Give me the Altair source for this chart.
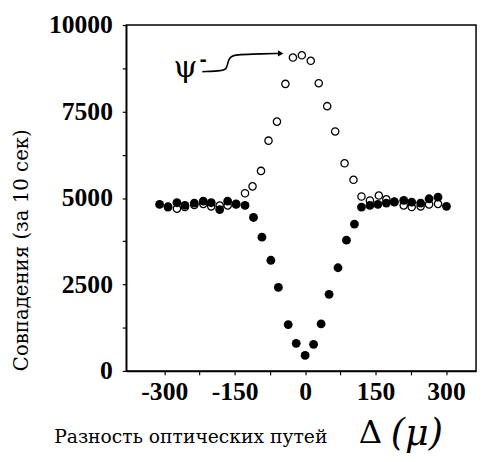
import altair as alt
import pandas as pd

# Filled circles (series 1)
filled_x = [-310, -292, -273, -256, -236, -217, -200, -182, -165, -147, -128,
            -110, -92, -73, -57, -36, -19, 0, 18, 34, 51, 70, 88, 105,
            120, 138, 155, 173, 190, 210, 227, 246, 264, 283, 301]
filled_y = [4815, 4738, 4863, 4786, 4852, 4909, 4863, 4664, 4909, 4815, 4786,
            4436, 3866, 3199, 2413, 1339, 798, 447, 769, 1359, 2214, 2983, 3781, 4245,
            4738, 4786, 4815, 4852, 4880, 4929, 4880, 4852, 4977, 5023, 4758]

# Open circles (psi-minus)
open_x = [-292, -273, -256, -236, -217, -200, -182, -165, -147,
          -128, -112, -94, -78, -60, -42, -26, -7, 12, 29, 47, 64, 84, 103,
          120, 138, 157, 173, 190, 210, 227, 246, 264, 283]
open_y = [4750, 4692, 4738, 4800, 4830, 4758, 4780, 4786, 4830,
          5137, 5336, 5783, 6658, 7208, 8299, 9060, 9125, 8966, 8319, 7655, 6923, 6003, 5527,
          5043, 4929, 5071, 4960, 4900, 4786, 4738, 4758, 4815, 4830]

# Annotation arrow path (data units)
arrow_x = [-219, -175, -168, -165, -163, -156, -145, -118, -52]
arrow_y = [8650, 8680, 8730, 8870, 9010, 9110, 9140, 9160, 9180]

x_ticks = [-300, -225, -150, -75, 0, 75, 150, 225, 300]
y_ticks = [0, 1250, 2500, 3750, 5000, 6250, 7500, 8750, 10000]

x_title = "Разность оптических путей"
y_title = "Совпадения (за 10 сек)"
delta_label = "Δ"
mu_label = "(μ)"
psi_label = "ψ"

df_f = pd.DataFrame({"x": filled_x, "y": filled_y})
df_o = pd.DataFrame({"x": open_x, "y": open_y})
df_a = pd.DataFrame({"x": arrow_x, "y": arrow_y, "o": list(range(len(arrow_x)))})

xscale = alt.Scale(domain=[-381, 364], nice=False, zero=False)
yscale = alt.Scale(domain=[0, 10000], nice=False, zero=False)

lab_font = "Liberation Serif"
title_font = "DejaVu Serif"

xaxis = alt.Axis(
    values=x_ticks,
    labelExpr="datum.value % 150 == 0 ? '' + datum.value : ''",
    grid=False, tickSize=4, labelPadding=4,
    labelFont=lab_font, labelFontSize=26, labelFontWeight="bold", labelColor="black",
    domainColor="black", domainWidth=1.5, tickColor="black", tickWidth=1.2,
    title=x_title, titleFont=title_font, titleFontSize=19, titleFontWeight="normal",
    titleColor="black", titleX=65, titleY=73, titleAlign="center", titleBaseline="alphabetic",
)
yaxis = alt.Axis(
    values=y_ticks,
    labelExpr="datum.value % 2500 == 0 ? '' + datum.value : ''",
    grid=False, tickSize=4, labelPadding=10,
    labelFont=lab_font, labelFontSize=26, labelFontWeight="bold", labelColor="black",
    domainColor="black", domainWidth=1.5, tickColor="black", tickWidth=1.2,
    title=y_title, titleFont=title_font, titleFontSize=20, titleFontWeight="normal",
    titleColor="black", titleX=-106, titleY=228, titleAngle=270, titleAlign="center",
    titleBaseline="middle",
)

open_pts = alt.Chart(df_o).mark_point(
    shape="circle", filled=False, fill="white", fillOpacity=1,
    stroke="black", strokeWidth=1.3, size=55, opacity=1
).encode(
    x=alt.X("x:Q", scale=xscale, axis=xaxis),
    y=alt.Y("y:Q", scale=yscale, axis=yaxis),
)

filled_pts = alt.Chart(df_f).mark_point(
    shape="circle", filled=True, color="black", size=80, opacity=1
).encode(
    x=alt.X("x:Q", scale=xscale),
    y=alt.Y("y:Q", scale=yscale),
)

arrow_line = alt.Chart(df_a).mark_line(
    color="black", strokeWidth=1.6, interpolate="basis"
).encode(
    x=alt.X("x:Q", scale=xscale),
    y=alt.Y("y:Q", scale=yscale),
    order="o:Q",
)

arrow_head = alt.Chart(df_a).transform_filter(
    alt.datum.o == len(arrow_x) - 1
).mark_point(
    shape="triangle-right", filled=True, color="black", size=40, opacity=1
).encode(
    x=alt.X("x:Q", scale=xscale),
    y=alt.Y("y:Q", scale=yscale),
)

psi_text = alt.Chart(pd.DataFrame({"t": [psi_label]})).mark_text(
    font="DejaVu Serif", fontSize=31, color="black",
    align="center", baseline="alphabetic"
).encode(x=alt.value(60), y=alt.value(53), text="t:N")

minus_text = alt.Chart(pd.DataFrame({"t": ["-"]})).mark_text(
    font="DejaVu Sans", fontSize=18, fontWeight="bold", color="black", align="center", baseline="middle"
).encode(x=alt.value(78), y=alt.value(37), text="t:N")

delta_text = alt.Chart(pd.DataFrame({"t": [delta_label]})).mark_text(
    font="DejaVu Serif", fontSize=33, color="black", align="center", baseline="alphabetic"
).encode(x=alt.value(248), y=alt.value(424), text="t:N")

mu_text = alt.Chart(pd.DataFrame({"t": [mu_label]})).mark_text(
    font="DejaVu Serif", fontSize=37, fontStyle="italic", color="black",
    align="center", baseline="alphabetic"
).encode(x=alt.value(295), y=alt.value(426), text="t:N")

chart = alt.layer(
    open_pts, filled_pts, arrow_line, arrow_head, psi_text, minus_text, delta_text, mu_text
).properties(
    width=355, height=351,
    padding={"left": 120, "top": 14, "right": 2, "bottom": 80},
    autosize=alt.AutoSizeParams(type="none"),
    background="white",
).configure_view(
    stroke="black", strokeWidth=1.5
)

chart.save("out.html", embed_options={"renderer": "svg", "actions": False})
